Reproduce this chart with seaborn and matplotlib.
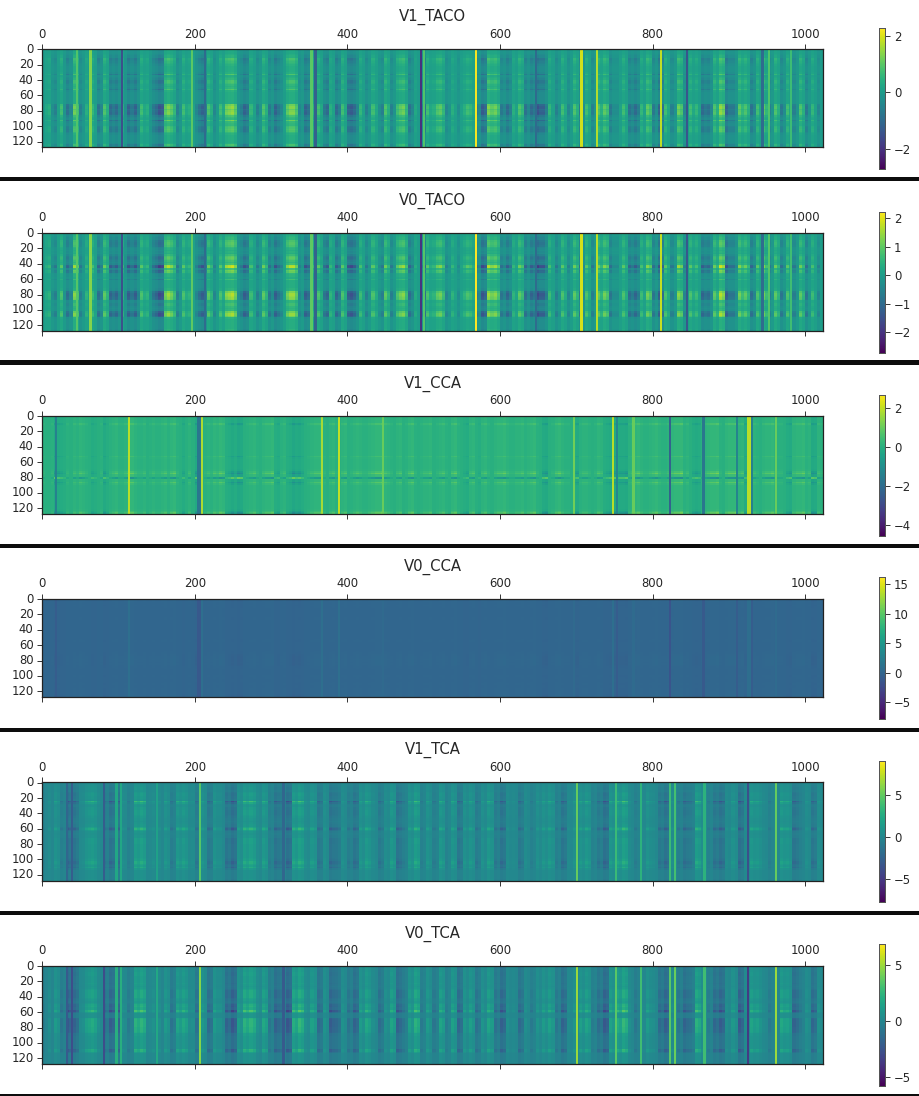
import numpy as np
import seaborn as sns
import matplotlib.pyplot as plt
from matplotlib.patches import Rectangle

W, H = 920, 1096
N_ROWS, N_COLS = 128, 1024

titles = ["V1_TACO", "V0_TACO", "V1_CCA", "V0_CCA", "V1_TCA", "V0_TCA"]
vmins = [-2.72, -2.74, -4.55, -7.8, -7.7, -5.8]
vmaxs = [2.27, 2.23, 2.68, 16.2, 8.97, 6.9]
cbar_ticks = [[-2, 0, 2], [-2, -1, 0, 1, 2], [-4, -2, 0, 2],
              [-5, 0, 5, 10, 15], [-5, 0, 5], [-5, 0, 5]]

# column profiles, one value per 4 columns, shared by V1 and V0 of a method
taco_cols = [0.0, 0.2, 0.3, -0.2, -0.4, 0.1, 0.5, -0.1, -0.6, -0.3, 0.8, 0.5, -0.4, -0.1, 0.3, 0.1,
             0.4, 0.1, -0.6, -0.3, 0.6, 0.3, -0.7, -0.5, -0.7, -0.3, 0.3, -0.2, -0.8, -0.5, -0.8, -0.3,
             0.5, 0.2, 0.3, -0.1, -0.5, -0.7, -1.0, -0.9, 0.7, 0.9, 0.7, 0.4, -0.4, -0.1, 0.5, 0.2,
             0.3, 0.1, -0.3, -0.6, -0.8, -0.4, 0.6, 0.3, -0.3, 0.0, 0.5, 0.2, 0.8, 0.9, 1.0, 0.7,
             -0.2, -0.4, -0.8, -0.6, 0.4, 0.1, -0.4, -0.1, 0.6, 0.3, -0.5, -0.2, -0.8, -0.5, -0.3, 0.1,
             0.7, 0.9, 0.9, 0.6, -0.3, -0.1, -0.8, -0.6, 0.3, 0.1, 0.5, 0.2, -0.5, -0.7, 0.3, 0.1,
             -0.7, -0.4, 0.5, 0.2, -0.8, -0.9, -0.7, -0.3, 0.4, 0.1, -0.4, -0.1, 0.5, 0.2, -0.2, -0.4,
             0.6, 0.3, -0.4, -0.1, 0.5, 0.7, 0.8, 0.4, -0.6, -0.3, 0.2, 0.0, -0.3, -0.6, 0.5, 0.2,
             0.3, 0.6, 0.7, 0.4, -0.3, -0.1, 0.3, 0.1, -0.2, 0.1, 0.3, 0.5, 0.4, 0.2, -0.5, -0.3,
             -0.9, -0.7, 0.9, 0.7, 0.8, 0.5, -0.5, -0.3, -0.7, -0.4, 0.3, 0.1, 0.6, 0.4, -0.6, -0.3,
             -0.7, -0.5, -1.0, -0.8, -0.8, -0.4, 0.4, 0.1, -0.4, -0.1, 0.5, 0.2, -0.3, 0.0, 0.6, 0.3,
             -0.5, -0.2, 0.5, 0.2, -0.4, -0.1, 0.6, 0.3, 0.7, 0.5, -0.5, -0.2, -0.2, 0.1, 0.5, 0.2,
             -0.6, -0.4, -0.7, -0.4, 0.4, 0.1, 0.7, 0.5, -0.5, -0.2, -0.8, -0.6, 0.5, 0.2, -0.4, -0.1,
             0.8, 0.6, -0.3, 0.0, 0.5, 0.2, 0.4, 0.1, -0.7, -0.5, -0.6, -0.3, 0.6, 0.3, 1.0, 0.8,
             -0.8, -0.5, -0.5, -0.2, 0.7, 0.4, 0.6, 0.3, -0.6, -0.3, 0.5, 0.2, 0.7, 0.4, -0.4, -0.1,
             0.6, 0.3, -0.5, -0.2, 0.5, 0.2, -0.4, -0.1, 0.6, 0.3, -0.5, -0.1, 0.4, 0.1, -0.3, 0.0]
cca_cols = [0.1, 0.0, 0.0, 0.1, -0.4, -0.3, -0.2, -0.1, 0.1, 0.0, 0.2, 0.1, 0.3, 0.2, 0.1, 0.0,
            -0.2, -0.1, 0.0, 0.1, -0.3, -0.1, 0.1, 0.2, 0.3, 0.1, 0.1, 0.2, 0.3, 0.4, 0.2, 0.1,
            0.1, 0.2, 0.0, 0.1, 0.2, 0.1, 0.1, 0.2, 0.3, 0.1, 0.3, 0.4, 0.1, 0.0, -0.2, 0.0,
            0.2, 0.0, -0.4, -0.2, 0.0, 0.1, 0.2, 0.1, 0.3, 0.2, 0.4, 0.3, -0.1, -0.2, -0.4, -0.2,
            -0.5, -0.4, 0.0, 0.1, 0.2, 0.3, 0.1, 0.0, 0.2, 0.3, 0.3, 0.4, -0.1, -0.2, 0.1, 0.2,
            -0.1, -0.2, -0.5, -0.3, -0.4, -0.2, 0.0, 0.1, 0.2, 0.3, 0.3, 0.4, 0.1, 0.0, 0.2, 0.3,
            0.1, 0.0, 0.2, 0.3, 0.0, 0.1, 0.2, 0.3, 0.2, 0.1, 0.1, 0.2, 0.3, 0.4, 0.4, 0.5,
            0.3, 0.2, 0.1, 0.0, 0.2, 0.3, 0.0, 0.1, 0.3, 0.4, 0.1, 0.0, 0.1, 0.2, 0.2, 0.3,
            0.0, 0.1, 0.2, 0.3, 0.1, 0.0, 0.3, 0.4, 0.1, 0.0, -0.1, -0.2, 0.2, 0.3, 0.0, -0.1,
            0.2, 0.3, 0.1, 0.0, 0.2, 0.3, 0.3, 0.4, 0.2, 0.1, 0.1, 0.2, 0.2, 0.3, 0.1, 0.2,
            0.3, 0.4, 0.1, 0.0, -0.3, -0.4, 0.0, 0.1, 0.3, 0.4, 0.2, 0.1, 0.1, 0.0, -0.2, -0.3,
            0.1, 0.2, 0.2, 0.1, 0.0, 0.1, 0.3, 0.2, -0.1, -0.2, -0.3, -0.4, -0.2, -0.3, -0.3, -0.4,
            0.1, 0.2, 0.3, 0.4, 0.2, 0.1, 0.1, 0.2, 0.3, 0.4, 0.2, 0.1, 0.1, 0.2, 0.3, 0.4,
            0.4, 0.5, 0.1, 0.2, 0.0, -0.2, -0.3, -0.2, 0.1, 0.2, 0.3, 0.4, 0.4, 0.5, 0.1, 0.0,
            0.3, 0.4, 0.4, 0.5, 0.2, 0.3, -0.2, -0.3, 0.1, 0.2, 0.1, 0.0, 0.2, 0.3, 0.3, 0.4,
            0.2, 0.1, 0.1, 0.0, -0.2, -0.3, 0.2, 0.3, 0.3, 0.4, 0.1, 0.2, -0.4, -0.3, 0.2, 0.1]
tca_cols = [-0.3, 0.0, 0.3, 0.0, 0.7, 0.4, -0.5, -0.2, -1.4, -1.0, -1.1, -0.7, 0.2, 0.3, 0.8, 1.0,
            1.2, 0.9, 0.3, 0.1, -0.7, -0.4, -1.3, -1.0, -1.5, -1.1, 0.3, 0.2, -0.4, -0.1, 1.4, 1.1,
            1.5, 1.2, 0.1, 0.2, 0.4, 0.1, 0.3, 0.0, 0.7, 0.4, -0.6, -0.3, 1.0, 0.7, 1.1, 0.8,
            0.2, 0.3, -0.7, -0.4, 0.6, 0.3, -0.9, -0.6, 0.7, 0.4, 0.4, 0.1, -1.1, -0.8, -1.5, -1.1,
            0.7, 0.4, 1.4, 1.1, 1.5, 1.2, 0.4, 0.2, 1.1, 0.8, -0.5, -0.2, -1.2, -0.9, -0.7, -0.4,
            -1.5, -1.2, 1.3, 1.0, 1.6, 1.3, 0.4, 0.2, 0.9, 0.6, -0.9, -0.6, 0.5, 0.2, -1.3, -1.0,
            -0.9, -0.6, 0.4, 0.2, -0.6, -0.3, -1.1, -0.8, 0.7, 0.4, 1.1, 0.8, 0.3, 0.1, -0.8, -0.5,
            0.4, 0.2, 1.0, 0.7, -1.2, -0.9, -0.5, -0.2, 0.8, 0.5, 1.4, 1.1, -0.4, -0.1, 0.7, 0.4,
            -0.5, -0.2, 1.0, 0.7, -0.3, 0.0, 0.9, 0.6, -1.0, -0.7, 0.6, 0.3, 0.8, 0.5, -0.7, -0.4,
            0.5, 0.2, 1.0, 0.7, -0.7, -0.4, -1.2, -0.9, 0.3, 0.1, 0.2, 0.1, -0.9, -0.6, 0.3, 0.1,
            -0.4, -0.1, 0.5, 0.2, 0.7, 0.4, 0.9, 0.6, -0.5, -0.2, -1.1, -0.8, 0.2, 0.1, 0.5, 0.2,
            0.8, 0.5, 1.0, 0.7, -0.3, -0.1, -0.8, -0.5, -1.4, -1.1, 0.9, 0.6, 1.2, 0.9, 1.6, 1.3,
            0.3, 0.1, -0.5, -0.2, 0.2, 0.1, 0.7, 0.4, 0.3, 0.1, -0.9, -0.6, -1.3, -1.0, 0.3, 0.1,
            -0.6, -0.3, -1.1, -0.8, -0.7, -0.4, 1.4, 1.1, 0.4, 0.2, -0.4, -0.1, -1.0, -0.7, -1.3, -1.0,
            0.3, 0.1, 0.6, 0.3, -1.4, -1.0, 0.2, 0.1, 1.0, 0.7, 0.8, 0.5, 0.2, 0.1, -0.4, -0.1,
            0.1, 0.0, 1.1, 0.8, 0.9, 0.6, -1.1, -0.8, -0.4, -0.1, 0.4, 0.2, -1.0, -0.7, 0.4, 0.2]

# row weights, one value per 2 rows
v1_taco_rows = [0.3, 0.3, 0.3, 0.4, 0.5, 0.5, 0.9, 0.8, 0.7, 0.6, 0.5, 0.4, 0.4, 0.4, 0.4, 0.5,
                1.0, 0.4, 0.5, 0.6, 0.9, 0.9, 0.8, 0.6, 0.5, 0.6, 1.0, 0.5, 0.4, 0.4, 0.4, 0.4,
                0.4, 0.4, 0.4, 0.4, 1.3, 1.5, 1.5, 1.2, 1.4, 1.5, 1.4, 0.9, 0.7, 0.6, 1.3, 0.7,
                0.6, 0.6, 0.9, 1.0, 1.1, 1.0, 0.7, 0.5, 0.4, 0.4, 0.4, 0.4, 0.4, 0.5, 0.9, 0.6]
v0_taco_rows = [0.3, 0.4, 0.5, 0.6, 0.6, 0.9, 1.0, 1.0, 0.9, 0.6, 0.5, 0.4, 0.5, 0.4, 0.7, 1.0,
                1.1, 1.0, 0.8, 0.6, 0.8, 1.8, 1.9, 0.8, 1.3, 1.2, 0.6, 0.5, 0.5, 0.4, 0.8, 0.4,
                0.4, 0.4, 0.4, 0.4, 0.5, 0.6, 1.4, 1.7, 1.7, 1.6, 1.5, 1.4, 0.6, 0.6, 0.8, 0.8,
                0.6, 0.5, 0.6, 1.3, 1.6, 1.6, 1.3, 0.5, 0.4, 0.4, 0.4, 0.4, 0.4, 0.4, 0.4, 0.5]
v1_cca_rows = [0.5, 0.5, 0.5, 0.5, 0.5, 1.4, 0.6, 0.5, 0.5, 0.5, 0.5, 0.5, 0.5, 0.5, 0.5, 0.5,
               0.5, 0.5, 0.5, 0.5, 0.5, 0.5, 0.5, 0.5, 0.5, 0.5, 1.2, 0.6, 0.5, 0.5, 0.5, 0.5,
               0.5, 0.5, 0.5, 0.6, 1.4, 2.4, 1.0, 0.9, -2.0, 0.9, 0.8, 1.9, 1.0, 0.5, 0.5, 0.5,
               0.5, 0.5, 0.5, 0.5, 0.5, 0.5, 0.5, 0.5, 0.5, 0.5, 0.5, 0.5, 0.5, 0.6, 1.3, 2.2]
v0_cca_rows = [1.0, 0.7, 0.4, 0.4, 0.5, 0.4, 0.3, 0.3, 0.3, 0.3, 0.3, 0.3, 0.4, 0.4, 0.3, 0.3,
               0.3, 0.3, 0.3, 0.3, 0.3, 0.3, 0.3, 0.3, 0.3, 0.3, 0.4, 0.5, 0.3, 0.3, 0.3, 0.3,
               0.3, 0.3, 0.4, 0.5, 0.8, 1.0, 1.0, 1.1, 1.0, 0.9, 1.0, 0.8, 0.5, 0.4, 0.3, 0.3,
               0.3, 0.3, 0.5, 0.4, 0.3, 0.3, 0.4, 0.5, 0.4, 0.4, 0.5, 0.5, 0.6, 0.6, 0.8, 1.0]
v1_tca_rows = [0.3, 0.4, 0.5, 0.6, 0.6, 0.5, 0.7, 0.8, 0.8, 0.7, 0.7, 0.6, 2.0, 1.2, 0.7, 0.6,
               0.8, 0.8, 0.9, 0.9, 0.9, 0.8, 0.7, 0.6, 0.6, 0.5, 0.6, 0.7, 0.7, 1.2, 1.7, 1.0,
               0.6, 0.5, 0.6, 0.6, 0.9, 0.9, 0.9, 0.9, 0.8, 0.8, 0.8, 0.8, 0.8, 0.8, 0.8, 0.8,
               0.8, 0.9, 1.0, 1.4, 1.4, 1.1, 0.9, 1.3, 0.7, 0.4, 0.4, 0.4, 0.4, 0.4, 0.4, 0.5]
v0_tca_rows = [0.6, 0.7, 0.7, 0.7, 0.8, 0.8, 0.8, 0.7, 0.7, 0.7, 0.7, 0.8, 0.7, 0.6, 0.7, 0.9,
               1.1, 1.1, 1.1, 1.1, 1.1, 0.9, 0.8, 0.7, 0.9, 1.2, 1.3, 1.1, 1.1, 1.9, 1.1, 0.5,
               0.5, 0.5, 1.3, 1.4, 1.4, 1.4, 1.4, 1.4, 1.3, 1.3, 1.3, 1.2, 0.8, 0.8, 0.7, 0.7,
               0.7, 0.7, 0.7, 0.7, 0.7, 0.7, 1.4, 1.3, 0.8, 0.4, 0.4, 0.4, 0.4, 0.4, 0.4, 0.4]

row_weights = [v1_taco_rows, v0_taco_rows, v1_cca_rows, v0_cca_rows, v1_tca_rows, v0_tca_rows]
col_profiles = [taco_cols, taco_cols, cca_cols, cca_cols, tca_cols, tca_cols]

# narrow stripes: column index and value
taco_stripe_cols = [44, 62, 103, 195, 212, 352, 357, 495, 499, 568, 646, 706, 726, 810, 844, 943, 952, 981]
taco_stripe_vals = [0.9, 1.3, -1.5, 1.0, -1.0, 1.0, -1.2, -2.0, 0.9, 2.2, -1.0, 1.9, 1.7, 1.8, -1.4, -1.0, 0.9, 0.7]
cca_stripe_cols = [17, 113, 203, 205, 208, 366, 388, 446, 696, 747, 752, 774, 822, 866, 910, 924, 926, 929, 961]
cca_stripe_vals = [-1.4, 1.9, -1.7, -1.7, 1.8, 1.7, 2.0, 1.0, 1.1, 1.9, -1.2, 1.0, -2.3, -1.7, -1.3, 1.9, 1.9, -1.4, 1.0]
v0_cca_stripe_vals = [-0.8, 0.9, -1.2, -1.2, 0.9, 0.9, 0.9, 0.4, 0.4, 0.9, -0.8, 0.5, -1.6, -1.1, -0.8, 0.8, 0.8, -0.8, 0.5]
tca_stripe_cols = [31, 38, 80, 96, 102, 149, 206, 315, 700, 751, 784, 822, 828, 867, 924, 961]
tca_stripe_vals = [-2.2, -2.8, -2.8, 2.2, 2.2, 1.8, 4.6, -2.2, 5.0, 3.6, 3.0, 3.6, 4.0, 3.0, -3.6, 5.0]

stripe_cols = [taco_stripe_cols, taco_stripe_cols, cca_stripe_cols, cca_stripe_cols, tca_stripe_cols, tca_stripe_cols]
stripe_vals = [taco_stripe_vals, taco_stripe_vals, cca_stripe_vals, v0_cca_stripe_vals, tca_stripe_vals, tca_stripe_vals]
col_scales = [1.0, 1.0, 1.0, 0.8, 1.3, 1.2]

# pixel layout
ax_tops = [49, 232.7, 415.7, 598.7, 782.3, 965.7]
cbar_tops = [28, 211.7, 394.7, 577.3, 761, 944.3]
sep_tops = [177, 360.5, 544, 727.5, 911, 1094]


def build_matrix(i):
    rows = np.repeat(row_weights[i], 2)
    cols = np.repeat(col_profiles[i], 4) * col_scales[i]
    m = np.outer(rows, cols)
    # 3 columns wide, narrower stripes render as dark or pale hairlines
    for c, v in zip(stripe_cols[i], stripe_vals[i]):
        m[:, c:c + 3] = v
    return m


sns.set_style("white")
plt.rcParams["font.family"] = ["DejaVu Sans"]
plt.rcParams["font.size"] = 8.4
plt.rcParams["text.color"] = "#262626"
plt.rcParams["xtick.labelcolor"] = "#262626"
plt.rcParams["ytick.labelcolor"] = "#262626"

fig = plt.figure(figsize=(W / 100, H / 100), dpi=100)

for i, title in enumerate(titles):
    ax = fig.add_axes([42 / W, 1 - (ax_tops[i] + 98.3) / H, 781 / W, 98.3 / H])
    cax = fig.add_axes([879 / W, 1 - (cbar_tops[i] + 141.4) / H, 6.5 / W, 141.4 / H])
    sns.heatmap(build_matrix(i), ax=ax, cbar_ax=cax, cmap="viridis",
                vmin=vmins[i], vmax=vmaxs[i])
    mesh = ax.collections[0]
    mesh.set_edgecolor("none")
    mesh.set_linewidth(0)
    mesh.set_antialiased(False)

    ax.set_xticks(np.arange(0, 1001, 200) + 0.5)
    ax.set_xticklabels(np.arange(0, 1001, 200), rotation=0)
    ax.set_yticks(np.arange(0, 121, 20) + 0.5)
    ax.set_yticklabels(np.arange(0, 121, 20), rotation=0)
    ax.tick_params(axis="x", top=True, bottom=True, labeltop=True, labelbottom=False,
                   length=3.5, width=0.7, color="#333333", labelsize=8.4, pad=2.5)
    ax.tick_params(axis="y", left=True, length=3.5, width=0.7, color="#333333", labelsize=8.4, pad=2.5)
    for s in ax.spines.values():
        s.set_visible(True)
        s.set_linewidth(0.9)
        s.set_color("#222222")
    ax.set_title(title, fontsize=10.7, pad=5)

    cax.set_yticks(cbar_ticks[i])
    cax.set_yticklabels([str(t).replace("-", "\u2212") for t in cbar_ticks[i]])
    cax.tick_params(axis="y", right=True, left=False, length=3.5, width=0.7, color="#333333",
                    labelsize=8.4, pad=2.5)
    for s in cax.spines.values():
        s.set_visible(True)
        s.set_linewidth(0.7)
        s.set_color("#555555")

# black separators between the stacked panels
for y in sep_tops:
    fig.add_artist(Rectangle((0, 1 - (y + 4) / H), 1, 4 / H, transform=fig.transFigure,
                             color="#0d0d0d", linewidth=0))

fig.savefig("out.png", dpi=100)
